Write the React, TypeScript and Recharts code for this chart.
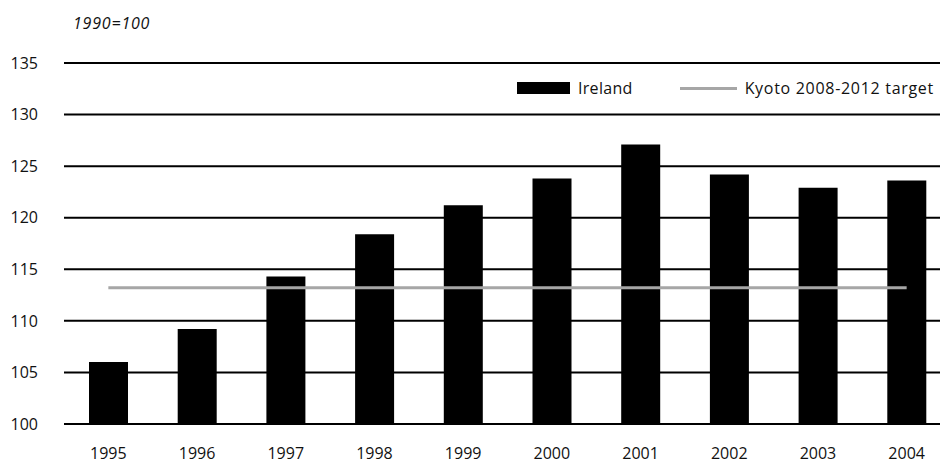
import {
  ComposedChart,
  Bar,
  Line,
  XAxis,
  YAxis,
  CartesianGrid,
} from "recharts";

const years = ["1995", "1996", "1997", "1998", "1999", "2000", "2001", "2002", "2003", "2004"];
const ireland = [106.0, 109.2, 114.3, 118.4, 121.2, 123.8, 127.1, 124.2, 122.9, 123.6];
const kyotoTarget = 113.2;
const yTicks = [100, 105, 110, 115, 120, 125, 130, 135];

const data = years.map((y, i) => ({ year: y, ireland: ireland[i], kyoto: kyotoTarget }));

const FONT = "'Open Sans', 'Noto Sans', sans-serif";

// legend drawn by hand, a Recharts <Legend> would eat into the plot height
function LegendBox() {
  return (
    <div
      style={{
        position: "absolute",
        left: 517,
        top: 77,
        display: "flex",
        alignItems: "center",
        fontFamily: FONT,
        fontSize: 16,
        color: "#111",
        whiteSpace: "nowrap",
      }}
    >
      <span style={{ display: "inline-block", width: 53, height: 12, background: "#000", marginRight: 8 }} />
      <span style={{ marginRight: 47, letterSpacing: 0.3 }}>Ireland</span>
      <span style={{ display: "inline-block", width: 57, height: 3, background: "#a6a6a6", marginRight: 8 }} />
      <span style={{ letterSpacing: 0.7 }}>Kyoto 2008-2012 target</span>
    </div>
  );
}

export default function App() {
  return (
    <div
      style={{
        position: "absolute",
        left: 0,
        top: 0,
        width: 940,
        height: 466,
        overflow: "hidden",
        background: "#fff",
      }}
    >
      <div
        style={{
          position: "absolute",
          left: 73,
          top: 12,
          fontFamily: FONT,
          fontSize: 16,
          fontStyle: "italic",
          letterSpacing: 0.8,
          color: "#111",
        }}
      >
        1990=100
      </div>
      <ComposedChart
        width={951}
        height={466}
        data={data}
        margin={{ top: 63, right: 0, bottom: 0, left: 0 }}
        barCategoryGap={0}
      >
        <CartesianGrid vertical={false} stroke="#000" strokeWidth={2} />
        <XAxis
          dataKey="year"
          axisLine={false}
          tickLine={false}
          height={42}
          tickMargin={18}
          tick={{ fill: "#111", fontSize: 16, fontFamily: FONT }}
        />
        <YAxis
          domain={[100, 135]}
          ticks={yTicks}
          width={64}
          axisLine={false}
          tickLine={false}
          tickMargin={20}
          tick={{ fill: "#111", fontSize: 16, fontFamily: FONT }}
        />
        <Bar dataKey="ireland" fill="#000" barSize={39} isAnimationActive={false} />
        <Line
          dataKey="kyoto"
          type="linear"
          stroke="#a6a6a6"
          strokeWidth={3}
          dot={false}
          isAnimationActive={false}
        />
      </ComposedChart>
      <LegendBox />
    </div>
  );
}
